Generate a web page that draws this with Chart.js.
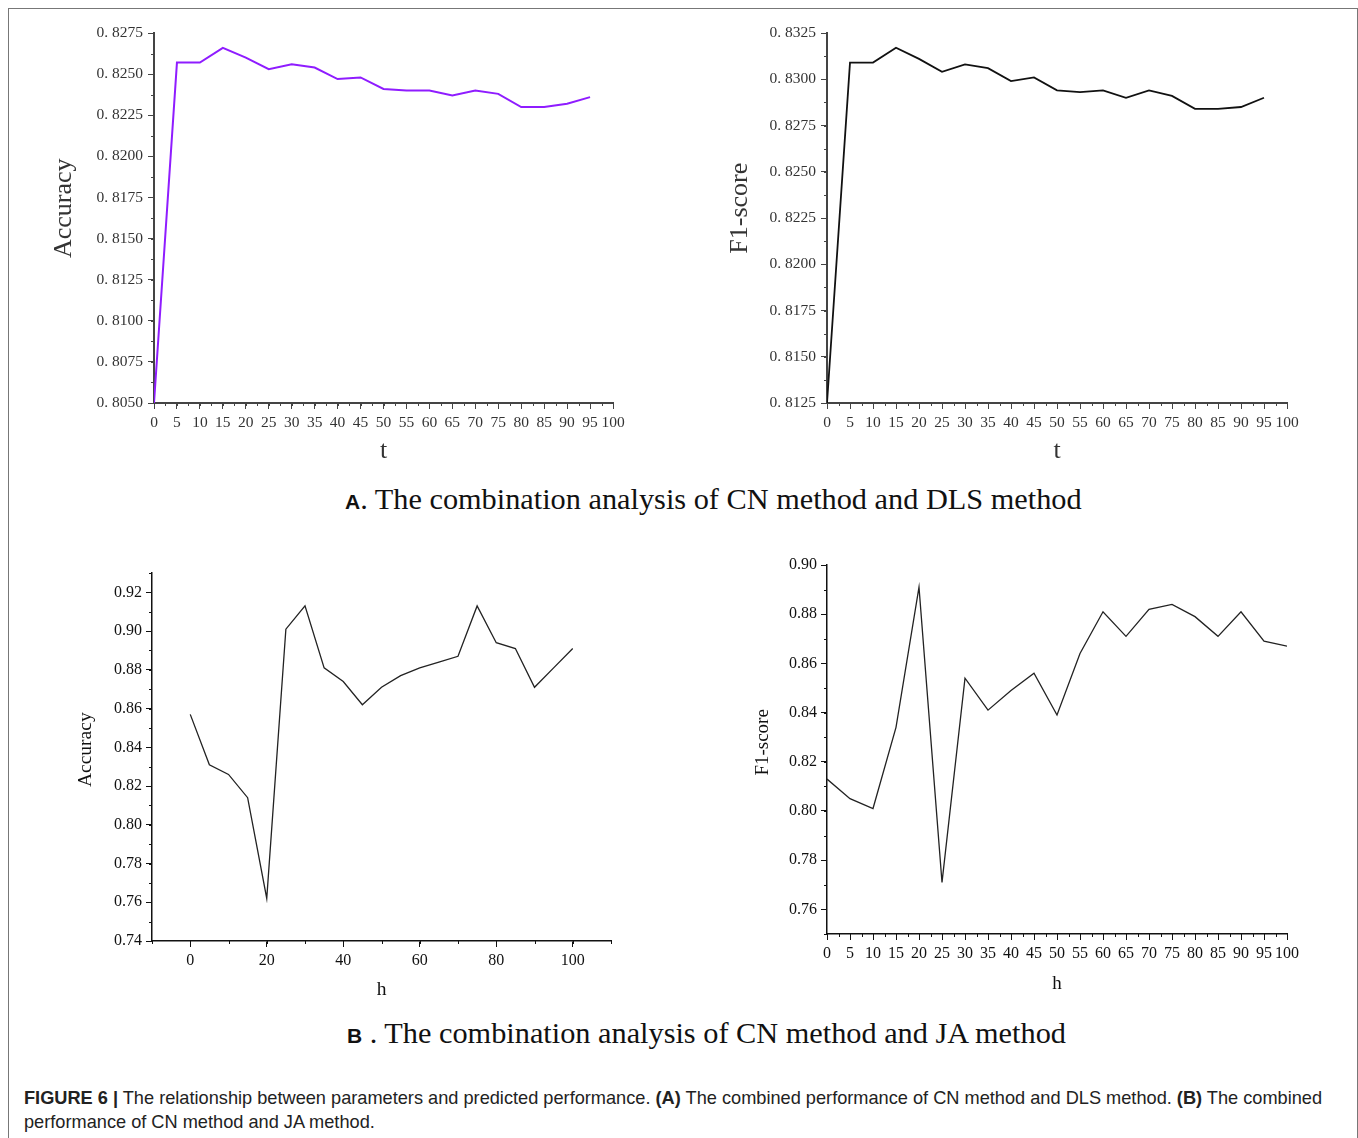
<!DOCTYPE html>
<html>
<head>
<meta charset="utf-8">
<script src="https://cdn.jsdelivr.net/npm/chart.js@4.4.1/dist/chart.umd.min.js"></script>
<style>
  body { margin: 0; background: #fff; width: 1358px; height: 1138px; overflow: hidden; position: relative; }
  .frame { position: absolute; left: 8px; top: 8px; width: 1348px; height: 1140px; border: 1px solid #777; border-bottom: none; }
  canvas { position: absolute; }
  .sub { position: absolute; white-space: nowrap; font-family: 'Liberation Serif', serif; font-size: 30.3px; line-height: 30px; color: #111; }
  .sub b { font-family: 'Liberation Sans', sans-serif; font-size: 21px; }
  .cap { position: absolute; left: 24px; top: 1086px; white-space: nowrap; font-family: 'Liberation Sans', sans-serif; font-size: 18.2px; line-height: 24px; color: #222; }
</style>
</head>
<body>
<div class="frame"></div>

<canvas id="chartA1" width="600" height="460" style="left:40px;top:15px"></canvas>
<canvas id="chartA2" width="600" height="460" style="left:714px;top:15px"></canvas>
<div class="sub" style="left:345px;top:484px"><b>A</b>. The combination analysis of CN method and DLS method</div>

<canvas id="chartB1" width="580" height="455" style="left:60px;top:555px"></canvas>
<canvas id="chartB2" width="600" height="465" style="left:714px;top:545px"></canvas>
<div class="sub" style="left:347px;top:1018px"><b>B</b> . The combination analysis of CN method and JA method</div>

<div class="cap"><b>FIGURE 6 |</b> The relationship between parameters and predicted performance. <b>(A)</b> The combined performance of CN method and DLS method. <b>(B)</b> The combined<br>performance of CN method and JA method.</div>

<script>
// values
const tValues = [0, 5, 10, 15, 20, 25, 30, 35, 40, 45, 50, 55, 60, 65, 70, 75, 80, 85, 90, 95];
const accuracyT = [0.8050, 0.8257, 0.8257, 0.8266, 0.8260, 0.8253, 0.8256, 0.8254, 0.8247, 0.8248,
                   0.8241, 0.8240, 0.8240, 0.8237, 0.8240, 0.8238, 0.8230, 0.8230, 0.8232, 0.8236];
const f1T = [0.8125, 0.8309, 0.8309, 0.8317, 0.8311, 0.8304, 0.8308, 0.8306, 0.8299, 0.8301,
             0.8294, 0.8293, 0.8294, 0.8290, 0.8294, 0.8291, 0.8284, 0.8284, 0.8285, 0.8290];

const hValues = [0, 5, 10, 15, 20, 25, 30, 35, 40, 45, 50, 55, 60, 65, 70, 75, 80, 85, 90, 95, 100];
const accuracyH = [0.857, 0.831, 0.826, 0.814, 0.762, 0.901, 0.913, 0.881, 0.874, 0.862, 0.871,
                   0.877, 0.881, 0.884, 0.887, 0.913, 0.894, 0.891, 0.871, 0.881, 0.891];
const f1H = [0.813, 0.805, 0.801, 0.834, 0.891, 0.771, 0.854, 0.841, 0.849, 0.856, 0.839,
             0.864, 0.881, 0.871, 0.882, 0.884, 0.879, 0.871, 0.881, 0.869, 0.867];

// short ticks between the labelled ones
const minorTicks = {
    id: 'minorTicks',
    afterDraw(chart, args, opts) {
        const ctx = chart.ctx;
        const area = chart.chartArea;
        ctx.save();
        ctx.strokeStyle = opts.color;
        ctx.lineWidth = opts.width;
        ['x', 'y'].forEach(id => {
            const s = chart.scales[id];
            const step = opts[id];
            if (!step) return;
            const n = Math.round((s.max - s.min) / step);
            for (let i = 0; i <= n; i++) {
                const p = Math.round(s.getPixelForValue(s.min + i * step)) + 0.5;
                ctx.beginPath();
                if (id === 'x') {
                    ctx.moveTo(p, area.bottom);
                    ctx.lineTo(p, area.bottom + opts.len);
                } else {
                    ctx.moveTo(area.left, p);
                    ctx.lineTo(area.left - opts.len, p);
                }
                ctx.stroke();
            }
        });
        ctx.restore();
    }
};

function lineChart(c) {
    const tickFont = {family: 'Liberation Serif', size: c.tickSize};
    const titleFont = {family: 'Liberation Serif', size: c.titleSize};
    const every = c.x.labelEvery || c.x.step;
    return new Chart(document.getElementById(c.id), {
        type: 'line',
        data: {
            datasets: [{
                data: c.xs.map((x, i) => ({x: x, y: c.ys[i]})),
                borderColor: c.color,
                borderWidth: c.lineWidth,
                pointRadius: 0,
                tension: 0,
                fill: false
            }]
        },
        options: {
            responsive: false,
            animation: false,
            devicePixelRatio: 1,
            layout: {padding: {top: c.padTop, right: c.padRight, left: 0, bottom: 0}},
            plugins: {
                legend: {display: false},
                tooltip: {enabled: false},
                minorTicks: {x: c.x.minor, y: c.y.minor, len: 3, color: c.axisColor, width: 1}
            },
            scales: {
                x: {
                    type: 'linear',
                    min: c.x.min,
                    max: c.x.max,
                    afterFit: s => { s.height = c.xH; },
                    border: {color: c.axisColor, width: c.axisWidth},
                    grid: {
                        drawOnChartArea: false,
                        tickLength: 6,
                        tickWidth: 1,
                        tickColor: ctx => (ctx.tick && ctx.tick.value % every === 0) ? c.axisColor : 'rgba(0,0,0,0)'
                    },
                    ticks: {
                        stepSize: c.x.step,
                        maxTicksLimit: 100,
                        autoSkip: false,
                        maxRotation: 0,
                        minRotation: 0,
                        includeBounds: false,
                        padding: c.tickPad,
                        font: tickFont,
                        color: c.textColor,
                        callback: v => (v % every === 0 && v >= 0) ? String(v) : ''
                    },
                    title: {display: true, text: c.xTitle, font: titleFont, color: c.textColor, padding: {top: 0, bottom: c.xTitlePad}}
                },
                y: {
                    min: c.y.min,
                    max: c.y.max,
                    afterFit: s => { s.width = c.yW; },
                    border: {color: c.axisColor, width: c.axisWidth},
                    grid: {drawOnChartArea: false, tickLength: 6, tickWidth: 1, tickColor: c.axisColor},
                    ticks: {
                        stepSize: c.y.step,
                        maxTicksLimit: 100,
                        includeBounds: false,
                        padding: c.tickPad,
                        font: tickFont,
                        color: c.textColor,
                        callback: c.y.format
                    },
                    // leading spaces nudge the rotated title a little upwards, as in the figure
                    title: {display: true, text: '   ' + c.yTitle, font: titleFont, color: c.textColor, padding: {top: c.yTitlePad, bottom: 0}}
                }
            }
        },
        plugins: [minorTicks]
    });
}

const fmtA = v => v.toFixed(4).replace('.', '. ');
const fmtB = v => v.toFixed(2);

lineChart({
    id: 'chartA1', xs: tValues, ys: accuracyT, color: '#8f1cff', lineWidth: 2,
    x: {min: 0, max: 100, step: 5, minor: 2.5},
    y: {min: 0.805, max: 0.8275, step: 0.0025, minor: 0.00125, format: fmtA},
    xTitle: 't', yTitle: 'Accuracy', tickSize: 15.5, titleSize: 26, tickPad: 5,
    textColor: '#333', axisColor: '#444', axisWidth: 2,
    yW: 114, xH: 72, padTop: 18, padRight: 27, xTitlePad: 8, yTitlePad: 9
});

lineChart({
    id: 'chartA2', xs: tValues, ys: f1T, color: '#111', lineWidth: 1.8,
    x: {min: 0, max: 100, step: 5, minor: 2.5},
    y: {min: 0.8125, max: 0.8325, step: 0.0025, minor: 0.00125, format: fmtA},
    xTitle: 't', yTitle: 'F1-score', tickSize: 15.5, titleSize: 26, tickPad: 5,
    textColor: '#333', axisColor: '#444', axisWidth: 2,
    yW: 113, xH: 72, padTop: 18, padRight: 27, xTitlePad: 8, yTitlePad: 11
});

lineChart({
    id: 'chartB1', xs: hValues, ys: accuracyH, color: '#222', lineWidth: 1.3,
    x: {min: -10, max: 110, step: 10, labelEvery: 20, minor: 10},
    y: {min: 0.74, max: 0.93, step: 0.02, minor: 0.01, format: fmtB},
    xTitle: 'h', yTitle: 'Accuracy', tickSize: 16, titleSize: 19.5, tickPad: 4,
    textColor: '#111', axisColor: '#111', axisWidth: 1.5,
    yW: 92, xH: 69, padTop: 18, padRight: 29, xTitlePad: 8, yTitlePad: 14
});

lineChart({
    id: 'chartB2', xs: hValues, ys: f1H, color: '#222', lineWidth: 1.3,
    x: {min: 0, max: 100, step: 5, minor: 2.5},
    y: {min: 0.75, max: 0.90, step: 0.02, minor: 0.01, format: fmtB},
    xTitle: 'h', yTitle: 'F1-score', tickSize: 16, titleSize: 19, tickPad: 4,
    textColor: '#111', axisColor: '#111', axisWidth: 1.5,
    yW: 113, xH: 76, padTop: 20, padRight: 27, xTitlePad: 15, yTitlePad: 38
});
</script>
</body>
</html>
